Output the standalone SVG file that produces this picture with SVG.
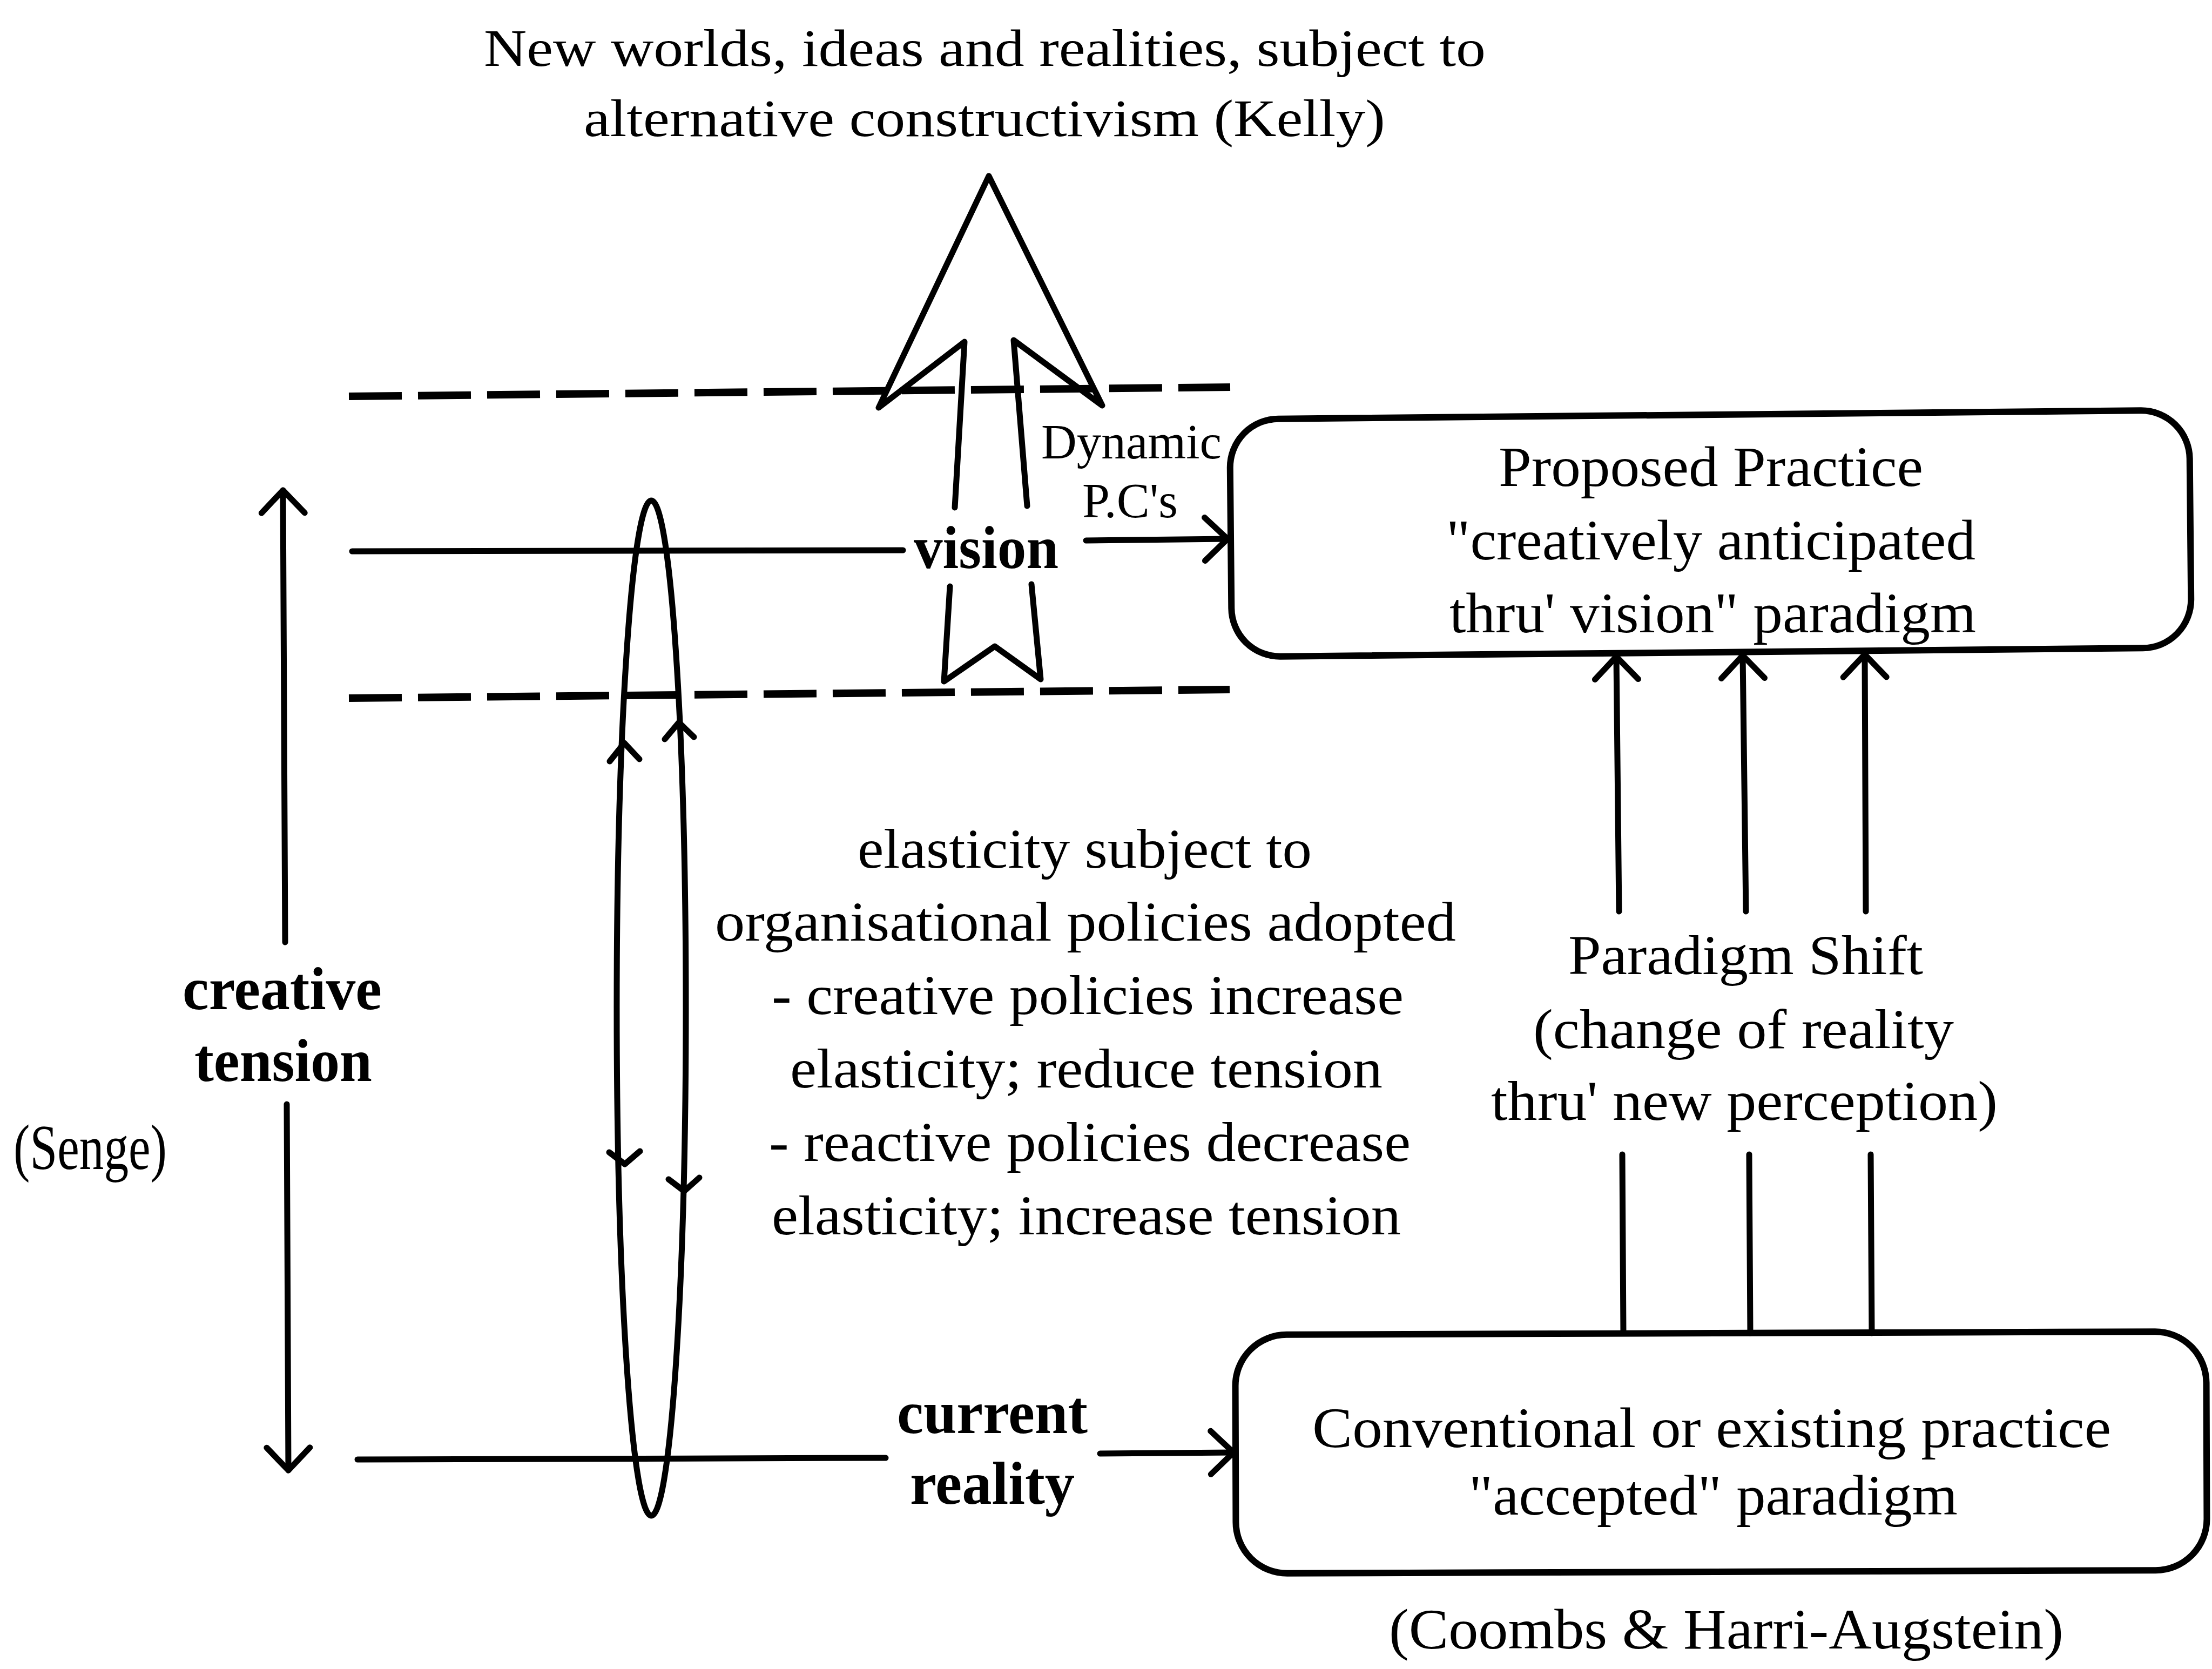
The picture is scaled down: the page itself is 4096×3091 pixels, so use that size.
<svg xmlns="http://www.w3.org/2000/svg" width="4096" height="3091" viewBox="0 0 4096 3091">
  <style>
    .ln { fill: none; stroke: #000; stroke-width: 11; stroke-linecap: round; stroke-linejoin: round; }
    .box { fill: none; stroke: #000; stroke-width: 12; }
    .dash { fill: none; stroke: #000; stroke-width: 14; stroke-dasharray: 98 30; }
    .t { font-family: "Liberation Serif", "Times New Roman", serif; fill: #000; }
    .b { font-weight: bold; }
  </style>
  <defs>
    <marker id="chev" markerUnits="userSpaceOnUse" refX="0" refY="0" orient="auto" overflow="visible">
      <path d="M-42,-40 L0,0 L-42,40" fill="none" stroke="#000" stroke-width="11" stroke-linecap="round" stroke-linejoin="round"/>
    </marker>
  </defs>
  <rect width="4096" height="3091" fill="#fff"/>

  <!-- upper and lower bounds of the vision band -->
  <g id="bands">
    <path class="dash" d="M646,734 L2278,717"/>
    <path class="dash" d="M646,1293 L2277,1277"/>
  </g>

  <!-- heading above the big arrow -->
  <g id="heading">
    <text class="t" x="896" y="122" font-size="98" textLength="1855" lengthAdjust="spacingAndGlyphs">New worlds, ideas and realities, subject to</text>
    <text class="t" x="1081" y="252" font-size="98" textLength="1484" lengthAdjust="spacingAndGlyphs">alternative constructivism (Kelly)</text>
  </g>

  <!-- big open arrow through the vision band -->
  <g id="vision-arrow">
    <path class="ln" stroke-width="12" d="M1768,940 L1786,633 L1627,755 L1831,326 L2041,751 L1877,630 L1902,937"/>
    <path class="ln" stroke-width="12" d="M1759,1086 L1748,1262 L1842,1197 L1927,1258 L1910,1082"/>
    <text class="t b" x="1692" y="1052" font-size="112" textLength="268" lengthAdjust="spacingAndGlyphs">vision</text>
  </g>

  <g id="dynamic-pcs">
    <text class="t" x="1928" y="849" font-size="90" textLength="334" lengthAdjust="spacingAndGlyphs">Dynamic</text>
    <text class="t" x="2004" y="958" font-size="90" textLength="177" lengthAdjust="spacingAndGlyphs">P.C's</text>
  </g>

  <!-- elastic band -->
  <g id="elastic">
    <ellipse class="ln" cx="1206" cy="1867" rx="64" ry="940"/>
    <path class="ln" d="M1129,1410 L1156,1376 L1184,1406"/>
    <path class="ln" d="M1231,1369 L1257,1338 L1285,1365"/>
    <path class="ln" d="M1128,2134 L1157,2156 L1185,2132"/>
    <path class="ln" d="M1238,2184 L1267,2206 L1295,2181"/>
  </g>

  <g id="creative-tension">
    <text class="t b" x="338" y="1869" font-size="112" textLength="369" lengthAdjust="spacingAndGlyphs">creative</text>
    <text class="t b" x="360" y="2002" font-size="112" textLength="329" lengthAdjust="spacingAndGlyphs">tension</text>
    <text class="t" x="25" y="2165" font-size="118" textLength="284" lengthAdjust="spacingAndGlyphs">(Senge)</text>
  </g>

  <g id="elasticity-note">
    <text class="t" x="1588" y="1607" font-size="104" textLength="841" lengthAdjust="spacingAndGlyphs">elasticity subject to</text>
    <text class="t" x="1324" y="1742" font-size="104" textLength="1372" lengthAdjust="spacingAndGlyphs">organisational policies adopted</text>
    <text class="t" x="1429" y="1878" font-size="104" textLength="1170" lengthAdjust="spacingAndGlyphs">- creative policies increase</text>
    <text class="t" x="1463" y="2014" font-size="104" textLength="1097" lengthAdjust="spacingAndGlyphs">elasticity; reduce tension</text>
    <text class="t" x="1424" y="2150" font-size="104" textLength="1188" lengthAdjust="spacingAndGlyphs">- reactive policies decrease</text>
    <text class="t" x="1429" y="2286" font-size="104" textLength="1165" lengthAdjust="spacingAndGlyphs">elasticity; increase tension</text>
  </g>

  <g id="current-reality">
    <text class="t b" x="1661" y="2654" font-size="112" textLength="353" lengthAdjust="spacingAndGlyphs">current</text>
    <text class="t b" x="1685" y="2785" font-size="112" textLength="305" lengthAdjust="spacingAndGlyphs">reality</text>
  </g>

  <g id="proposed-practice">
    <rect class="box" x="2279" y="768" width="1777" height="440" rx="90" ry="90" transform="rotate(-0.55 3168 988)"/>
    <text class="t" x="2775" y="900" font-size="106" textLength="786" lengthAdjust="spacingAndGlyphs">Proposed Practice</text>
    <text class="t" x="2678" y="1036" font-size="106" textLength="980" lengthAdjust="spacingAndGlyphs">"creatively anticipated</text>
    <text class="t" x="2684" y="1171" font-size="106" textLength="975" lengthAdjust="spacingAndGlyphs">thru' vision" paradigm</text>
  </g>

  <g id="conventional-practice">
    <rect class="box" x="2288" y="2469" width="1798" height="442" rx="95" ry="95" transform="rotate(-0.2 3187 2690)"/>
    <text class="t" x="2430" y="2680" font-size="106" textLength="1479" lengthAdjust="spacingAndGlyphs">Conventional or existing practice</text>
    <text class="t" x="2720" y="2805" font-size="106" textLength="905" lengthAdjust="spacingAndGlyphs">"accepted" paradigm</text>
    <text class="t" x="2572" y="3053" font-size="106" textLength="1249" lengthAdjust="spacingAndGlyphs">(Coombs &amp; Harri-Augstein)</text>
  </g>

  <g id="paradigm-shift">
    <text class="t" x="2904" y="1804" font-size="104" textLength="657" lengthAdjust="spacingAndGlyphs">Paradigm Shift</text>
    <text class="t" x="2839" y="1941" font-size="104" textLength="779" lengthAdjust="spacingAndGlyphs">(change of reality</text>
    <text class="t" x="2761" y="2074" font-size="104" textLength="938" lengthAdjust="spacingAndGlyphs">thru' new perception)</text>
  </g>

  <!-- connectors -->
  <g id="connectors">
    <path class="ln" d="M528,1745 L524,908" marker-end="url(#chev)"/>
    <path class="ln" d="M531,2045 L534,2723" marker-end="url(#chev)"/>
    <path class="ln" d="M652,1021 L1672,1019"/>
    <path class="ln" d="M2011,1001 L2273,998" marker-end="url(#chev)"/>
    <path class="ln" d="M662,2703 L1640,2700"/>
    <path class="ln" d="M2037,2692 L2284,2690" marker-end="url(#chev)"/>
    <path class="ln" d="M2998,1688 L2993,1216" marker-end="url(#chev)"/>
    <path class="ln" d="M3233,1688 L3227,1214" marker-end="url(#chev)"/>
    <path class="ln" d="M3455,1688 L3453,1212" marker-end="url(#chev)"/>
    <path class="ln" d="M3004,2138 L3006,2469"/>
    <path class="ln" d="M3239,2138 L3241,2469"/>
    <path class="ln" d="M3464,2138 L3466,2469"/>
  </g>
</svg>
